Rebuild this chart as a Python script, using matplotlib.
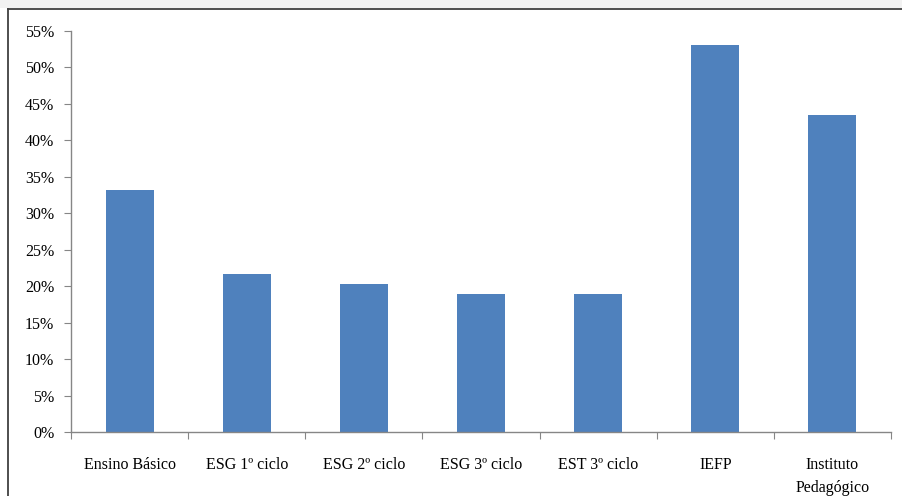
import numpy as np
import matplotlib.pyplot as plt
from matplotlib.patches import Rectangle
from matplotlib.lines import Line2D
from matplotlib.ticker import PercentFormatter, MultipleLocator

categories = ['Ensino Básico', 'ESG 1º ciclo', 'ESG 2º ciclo', 'ESG 3º ciclo',
              'EST 3º ciclo', 'IEFP', 'Instituto\nPedagógico']
values = [33.2, 21.7, 20.3, 18.9, 18.9, 53.1, 43.5]

plt.rcParams['font.family'] = ['Liberation Serif', 'DejaVu Serif']

fig = plt.figure(figsize=(9.03, 4.96), dpi=100)
ax = fig.add_axes([71/903, 1 - 432/496, (891 - 71)/903, (432 - 31)/496])

x = np.arange(len(categories))
ax.bar(x, values, width=0.41, color='#4f81bd', zorder=2)

ax.set_xlim(-0.5, len(categories) - 0.5)
ax.set_ylim(0, 55)
ax.yaxis.set_major_locator(MultipleLocator(5))
ax.yaxis.set_major_formatter(PercentFormatter(decimals=0))

# category labels between boundary ticks
ax.set_xticks(np.arange(len(categories) + 1) - 0.5)
ax.set_xticklabels([])
ax.set_xticks(x, minor=True)
ax.set_xticklabels(categories, minor=True, fontsize=11.5, linespacing=1.6,
                   va='top')
ax.tick_params(axis='x', which='minor', length=0, pad=18)
ax.tick_params(axis='x', which='major', length=5, color='#868686', direction='out')
ax.tick_params(axis='y', length=5, color='#868686', direction='out',
               labelsize=11.5, pad=7)

for side in ['top', 'right']:
    ax.spines[side].set_visible(False)
for side in ['left', 'bottom']:
    ax.spines[side].set_color('#868686')
    ax.spines[side].set_linewidth(1.0)

# outer chart frame (cut off at right/bottom) and strip of title above
fig.patches.append(Rectangle((0, 1 - 8/496), 1, 8/496, transform=fig.transFigure,
                             facecolor='#f2f2f2', edgecolor='none'))
fig.lines.append(Line2D([8/903, 1], [1 - 9/496, 1 - 9/496], transform=fig.transFigure,
                        color='#404040', linewidth=1.3))
fig.lines.append(Line2D([8/903, 8/903], [0, 1 - 9/496], transform=fig.transFigure,
                        color='#404040', linewidth=1.3))

fig.savefig('out.png', dpi=100)
